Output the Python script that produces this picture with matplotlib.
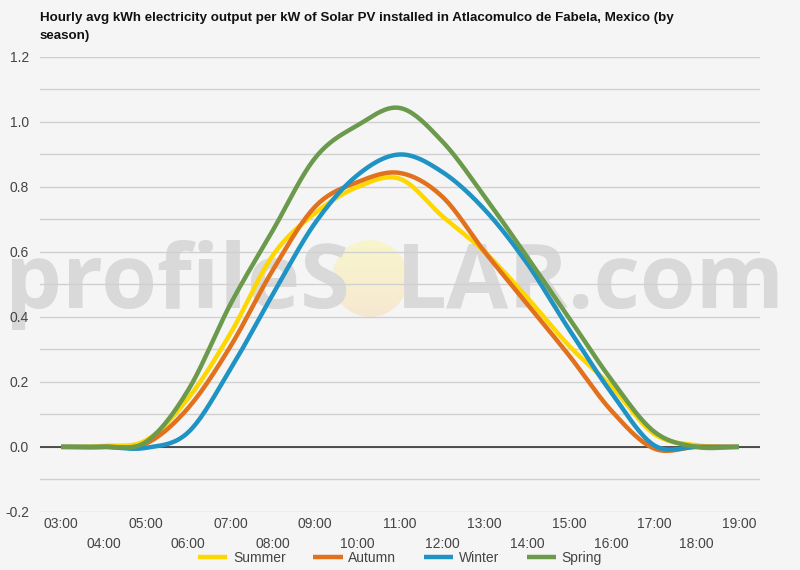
import numpy as np
import matplotlib
matplotlib.use('Agg')
import matplotlib.pyplot as plt
from matplotlib.patches import Ellipse

plt.rcParams['font.family'] = ['Liberation Sans', 'DejaVu Sans']

# hourly values
hours = list(range(3, 20))
hour_labels = ['%02d:00' % h for h in hours]
summer = [0, 0.003, 0.02, 0.15, 0.35, 0.59, 0.72, 0.80, 0.825, 0.71, 0.60, 0.46, 0.31, 0.185, 0.04, 0.005, 0]
autumn = [0, 0, 0.01, 0.12, 0.31, 0.545, 0.74, 0.815, 0.843, 0.77, 0.60, 0.44, 0.28, 0.11, -0.005, 0, 0]
winter = [0, 0, -0.003, 0.045, 0.24, 0.47, 0.69, 0.837, 0.90, 0.846, 0.73, 0.565, 0.36, 0.165, 0.005, 0, 0]
spring = [0, 0, 0.015, 0.175, 0.44, 0.667, 0.89, 0.99, 1.043, 0.94, 0.77, 0.585, 0.395, 0.205, 0.047, 0, 0]
series = ['Summer', 'Autumn', 'Winter', 'Spring']
colors = ['#ffd700', '#e2711d', '#1f93c4', '#6b9a4c']


def smooth(x, y, n=20):
    # cubic hermite curve through the points, like the original chart
    x = np.asarray(x, float)
    y = np.asarray(y, float)
    m = np.gradient(y, x)
    xs, ys = [], []
    for i in range(len(x) - 1):
        t = np.linspace(0, 1, n, endpoint=False)
        h = x[i + 1] - x[i]
        h00 = 2 * t**3 - 3 * t**2 + 1
        h10 = t**3 - 2 * t**2 + t
        h01 = -2 * t**3 + 3 * t**2
        h11 = t**3 - t**2
        xs.append(x[i] + t * h)
        ys.append(h00 * y[i] + h10 * h * m[i] + h01 * y[i + 1] + h11 * h * m[i + 1])
    xs.append([x[-1]])
    ys.append([y[-1]])
    return np.concatenate(xs), np.concatenate(ys)


bg = '#f5f5f5'
W, H = 800, 570
fig = plt.figure(figsize=(8, 5.7), dpi=100, facecolor=bg)

# watermark behind the chart
fig.text(5 / W, 1 - 308 / H, 'profileS', ha='left', va='baseline', fontsize=65,
         family='Open Sans', fontweight='bold', color='#d9d9d9', zorder=1)
fig.text(785 / W, 1 - 308 / H, 'LAR.com', ha='right', va='baseline', fontsize=65,
         family='Open Sans', fontweight='bold', color='#d9d9d9', zorder=1)
sax = fig.add_axes([332 / W, 1 - 317 / H, 76 / W, 77 / H], zorder=1)
sax.set_axis_off()
grad = np.linspace(0, 1, 100)[:, None]
top = np.array([0.973, 0.965, 0.80])
bot = np.array([0.968, 0.91, 0.82])
img = top[None, None, :] * (1 - grad[:, :, None]) + bot[None, None, :] * grad[:, :, None]
im = sax.imshow(np.repeat(img, 2, axis=1), extent=(0, 1, 0, 1), aspect='auto', origin='upper')
clip = Ellipse((0.5, 0.5), 1, 1, transform=sax.transAxes)
im.set_clip_path(clip)

ax = fig.add_axes([0.05, 0.102, 0.90, 0.798], zorder=2)
ax.patch.set_visible(False)

for name, vals, c in zip(series, [summer, autumn, winter, spring], colors):
    sx, sy = smooth(hours, vals)
    ax.plot(sx, sy, color=c, lw=3.2, label=name, zorder=3, solid_capstyle='butt')

ax.set_xlim(2.5, 19.5)
ax.set_ylim(-0.2, 1.2)
ax.set_yticks(np.arange(-0.2, 1.21, 0.2))
ax.set_yticks(np.arange(-0.2, 1.21, 0.1), minor=True)
ax.set_yticklabels(['%.1f' % v for v in np.arange(-0.2, 1.21, 0.2)])
ax.grid(axis='y', which='both', color='#d0d0d0', lw=1, zorder=0)
ax.axhline(0, color='#333333', lw=1.2, zorder=2)

ax.set_xticks(hours[::2])
ax.set_xticklabels(hour_labels[::2])
ax.set_xticks(hours[1::2], minor=True)
ax.set_xticklabels(hour_labels[1::2], minor=True)
ax.tick_params(axis='x', which='major', length=0, pad=4, labelsize=10, labelcolor='#444444')
ax.tick_params(axis='x', which='minor', length=0, pad=18, labelsize=10, labelcolor='#444444')
ax.tick_params(axis='y', which='both', length=0, pad=8, labelsize=10, labelcolor='#444444')
for s in ax.spines.values():
    s.set_visible(False)

fig.text(0.05, 1 - 12 / H, 'Hourly avg kWh electricity output per kW of Solar PV installed in Atlacomulco de Fabela, Mexico (by\nseason)',
         ha='left', va='top', fontsize=9.6, fontweight='bold', color='#111111', linespacing=1.65)

fig.legend(loc='center', bbox_to_anchor=(0.5, 0.021), ncol=4, frameon=False, fontsize=10,
           handlelength=2.1, handletextpad=0.4, columnspacing=2.0, labelcolor='#444444')

fig.savefig('out.png', dpi=100, facecolor=bg)
